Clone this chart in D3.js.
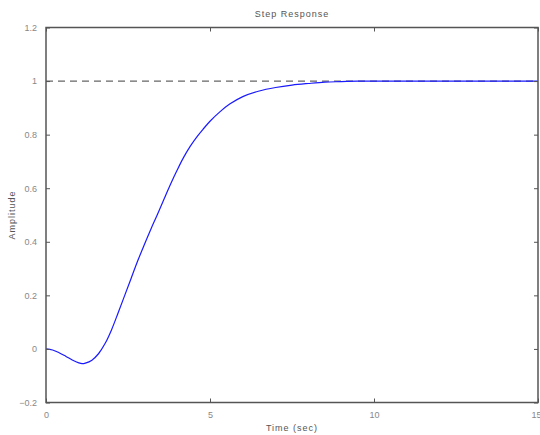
<!DOCTYPE html>
<html><head><meta charset="utf-8">
<script src="https://cdn.jsdelivr.net/npm/d3@7"></script>
<style>body{margin:0;background:#fff}svg{display:block}text{font-family:"Liberation Sans Narrow","Liberation Sans",Arial,sans-serif}</style>
</head><body>
<script>
const timeValues = [0,0.2,0.4,0.6,0.8,1.0,1.1,1.2,1.4,1.6,1.8,2.0,2.2,2.4,2.6,2.8,3.0,3.2,3.4,3.6,3.8,4.0,4.2,4.4,4.6,4.8,5.0,5.3,5.6,6.0,6.5,7.0,7.5,8.0,8.5,9.0,9.5,10,11,12,13,14,15];
const amplitudeValues = [0,-0.004,-0.014,-0.027,-0.041,-0.052,-0.055,-0.053,-0.042,-0.018,0.020,0.072,0.135,0.200,0.265,0.330,0.390,0.448,0.503,0.560,0.616,0.668,0.716,0.757,0.792,0.822,0.850,0.885,0.914,0.942,0.963,0.976,0.985,0.991,0.996,0.998,1.0,1.0,1.0,1.0,1.0,1.0,1.0];
const xTicks = [0,5,10,15];
const yTicks = [-0.2,0,0.2,0.4,0.6,0.8,1,1.2];
const steadyState = 1;
const titleText = "Step Response", xLabel = "Time (sec)", yLabel = "Amplitude";

const W=540,H=435, L=46,R=538,T=27.5,B=402.5;
const svg=d3.select("body").append("svg").attr("width",W).attr("height",H);
const x=d3.scaleLinear().domain([0,15]).range([L,R]);
const y=d3.scaleLinear().domain([-0.2,1.2]).range([B,T]);
const axisCol="#555", labCol="#888";

svg.append("line").attr("x1",x(0)).attr("x2",x(15)).attr("y1",y(steadyState)).attr("y2",y(steadyState))
  .attr("stroke","#666").attr("stroke-width",1.3).attr("stroke-dasharray","7,5");
svg.append("path").datum(timeValues.map((t,i)=>[t,amplitudeValues[i]]))
  .attr("d",d3.line().x(d=>x(d[0])).y(d=>y(d[1])).curve(d3.curveCatmullRom))
  .attr("fill","none").attr("stroke","#1a1aff").attr("stroke-width",1.2);

function styleAxis(g){g.select(".domain").remove();g.selectAll("line").attr("stroke",axisCol);g.selectAll("text").attr("fill",labCol).style("font-size","9px");}
const xb=svg.append("g").attr("transform",`translate(0,${B})`).call(d3.axisBottom(x).tickValues(xTicks).tickSize(-4).tickPadding(9).tickFormat(d3.format("d"))).call(styleAxis);
xb.selectAll(".tick").filter(d=>d===15).select("text").attr("text-anchor","end").attr("dx","3");
svg.append("g").attr("transform",`translate(0,${T})`).call(d3.axisTop(x).tickValues(xTicks).tickSize(-4).tickFormat("")).call(styleAxis);
svg.append("g").attr("transform",`translate(${L},0)`).call(d3.axisLeft(y).tickValues(yTicks).tickSize(-4).tickPadding(9).tickFormat(d=>d3.format("")(+d.toFixed(1)))).call(styleAxis);
svg.append("g").attr("transform",`translate(${R},0)`).call(d3.axisRight(y).tickValues(yTicks).tickSize(-4).tickFormat("")).call(styleAxis);
svg.append("rect").attr("x",L).attr("y",T).attr("width",R-L).attr("height",B-T).attr("fill","none").attr("stroke",axisCol).attr("stroke-width",1.5);

function lab(t){return t.attr("text-anchor","middle").attr("fill","#555").style("font-size","9px").style("letter-spacing","1px");}
lab(svg.append("text").attr("x",(L+R)/2).attr("y",17)).text(titleText);
lab(svg.append("text").attr("x",(L+R)/2).attr("y",431)).text(xLabel);
lab(svg.append("text").attr("transform",`translate(15,${(T+B)/2}) rotate(-90)`)).text(yLabel);
</script>
</body></html>
